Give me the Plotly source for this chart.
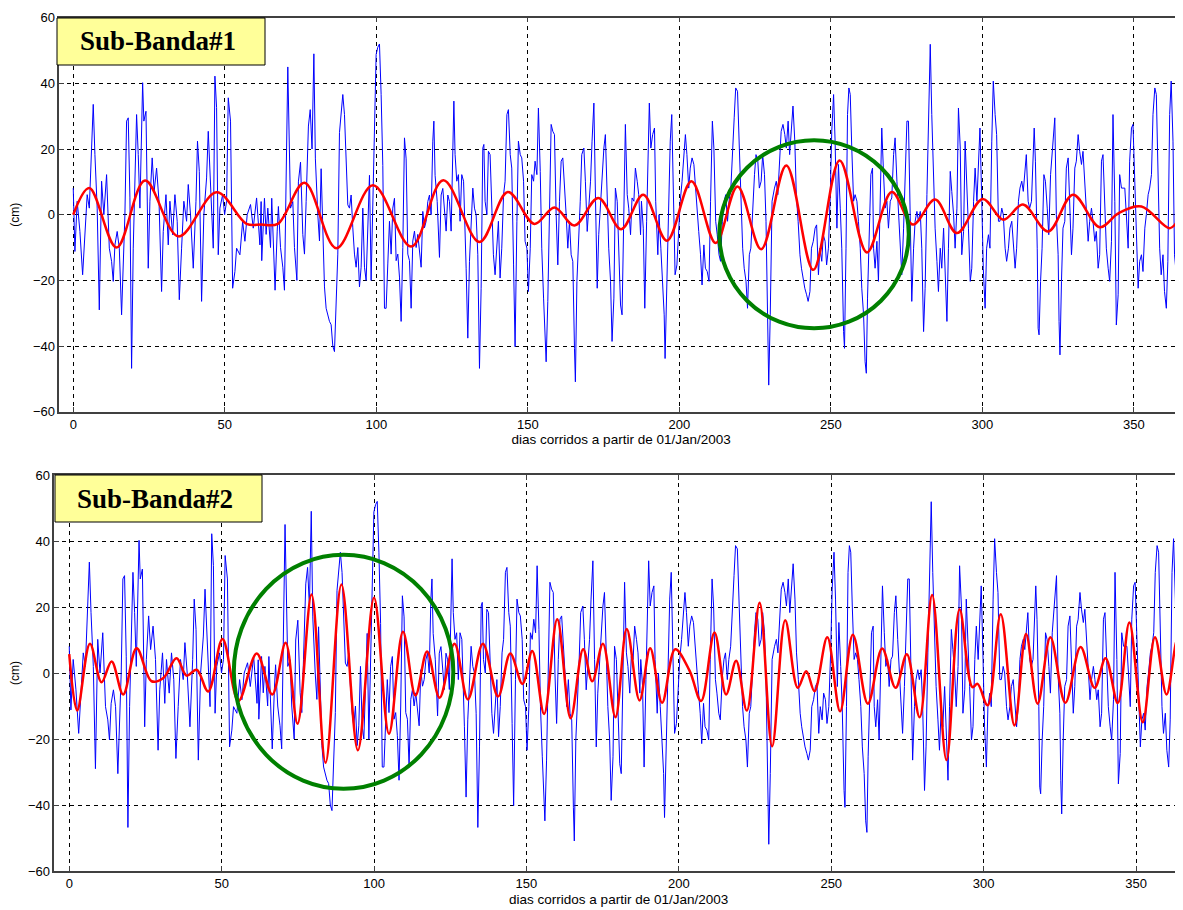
import plotly.graph_objects as go

# ---------------- data ----------------
X_TICKS = [0, 50, 100, 150, 200, 250, 300, 350]
Y_TICKS = [-60, -40, -20, 0, 20, 40, 60]
X_TITLE = "dias corridos a partir de 01/Jan/2003"
Y_TITLE = "(cm)"
PANEL_LABELS = ["Sub-Banda#1", "Sub-Banda#2"]

# sea-level residual (blue), (day, cm) samples at the visible turning points
BLUE_SAMPLES = [
    (0, 8.1), (0.55, -11.2), (1.3, 4.1), (2.2, -5.1), (3.1, -18.3), (3.85, -4.1), (4.6, 6.1), (5.3, 2.0),
    (6.05, 24.4), (6.6, 33.6), (7.15, 18.3), (7.9, 2), (8.6, -29), (9.35, 10.2), (10.1, 0), (11.0, 12.2),
    (11.9, -10.2), (12.65, -14.2), (13.2, -20.3), (13.75, -9.2), (14.5, -5.1), (15.2, -10.2), (15.95, -30.5),
    (16.5, -16.3), (17.05, 0), (17.6, 28.5), (18.15, 29.5), (18.7, 5.1), (19.25, -46.8), (19.8, -10.2),
    (20.9, 30.5), (21.45, 18.3), (22.0, 2), (22.9, 40.2), (23.3, 28.5), (24.0, 31.5), (24.75, -16.3),
    (25.3, 4.1), (26.05, 17.3), (26.7, 7.1), (27.5, 14.2), (28.3, 4.1), (29.15, -23.4), (29.7, -5.1),
    (30.6, 6.1), (31.35, -9.2), (31.9, 4.1), (32.8, -6.1), (33.55, 6.1), (34.3, -2), (35.0, -25.9),
    (35.75, -10.2), (36.5, 4.1), (37.4, -2), (37.95, 9.2), (38.7, 0), (39.6, -16.3), (40.5, 4.1),
    (41.0, 22.4), (41.6, 13.2), (42.35, -26.4), (43.1, 0), (44.0, 11.2), (44.55, 25.4), (45.3, 8.1),
    (46.2, -10.2), (46.75, 42.2), (47.3, 32.6), (47.85, -12.2), (48.4, 2), (49.3, 6.1), (49.95, 0),
    (50.6, 4.1), (51.15, 35.6), (51.9, 28.5), (52.6, -22.4), (53.35, -17.3), (53.9, -10.2), (55.0, -12.2),
    (55.9, -2), (56.65, -8.1), (57.4, 0), (58.5, 3.1), (59.4, -4.1), (60.5, 5.1), (61.6, -9.2),
    (62.0, 4), (62.2, -14), (63.1, 5), (63.65, -6), (64.2, 2), (65.1, -10), (65.5, 5), (66.2, -16),
    (66.6, -23), (67.3, -5), (67.7, 2.5), (68.4, -10), (69.15, -16), (69.7, -23), (70.8, 45), (71.7, 2),
    (72.45, 4), (73.0, -10), (73.8, -20), (74.3, 10), (75.0, 16), (75.75, -6), (76.3, -12), (76.85, 4),
    (77.6, 27), (78.2, 32), (78.8, 20), (79.4, 49), (79.9, 17), (80.7, 0), (81.25, -8), (81.8, 14),
    (82.35, -5), (82.9, -22), (83.45, -28.5), (84.0, -30.5), (84.55, -32.5), (85.1, -33.5), (85.65, -40),
    (86.2, -41.7), (86.75, -28.5), (87.3, -12), (87.85, 25), (88.4, 31.5), (88.95, 36.6), (89.5, 30.5),
    (90.05, 15), (90.6, 3), (91.15, 2), (91.7, 6), (92.25, -4), (92.8, -12), (93.35, -16), (93.9, -10),
    (94.45, -22), (95.0, -16), (95.55, 2), (96.1, -16), (96.65, -20), (97.2, -2), (97.75, 12), (98.3, -20),
    (98.85, 4), (99.4, 33.6), (99.95, 48.8), (100.5, 51), (101.05, 52), (101.6, 36.6), (102.15, 15),
    (102.7, -28.5), (103.25, -28.5), (103.8, -15), (104.35, -2), (104.9, -12), (105.45, 2), (106.0, 5),
    (106.55, -14), (107.1, -12), (107.65, -19), (108.2, -32.5), (108.75, -10), (109.3, 23.4), (109.85, 17),
    (110.4, -12), (110.95, -14), (111.5, -28.5), (112.05, -8), (112.6, -5), (113.15, -10), (113.7, -6),
    (114.25, -12), (114.8, -16), (115.35, 1), (115.9, -4), (116.45, -2), (117.0, 4), (117.55, 6),
    (118.1, 0), (118.65, 22.4), (119.0, 28.5), (119.4, 12), (120.1, 4), (120.85, -13), (121.4, 6),
    (121.95, 8), (122.5, 0), (123.05, -5), (123.6, 6), (124.15, 4), (124.7, -5),
    (125.25, 22.4), (125.6, 34.6), (126.0, 18.3), (126.55, 10.2), (127.1, 12.2), (127.65, -2), (128.2, 12.2),
    (128.8, 10.2), (129.65, -16.3), (130.2, -37.6), (130.75, -14.2), (131.3, -2), (131.85, 8.1), (132.4, 2),
    (132.95, 0), (133.5, -12.2), (134.05, -46.8), (134.6, -22.4), (135.15, 20.3), (135.5, 21.4), (135.9, 4.1),
    (136.5, 0), (137.0, 19.3), (137.55, 18.3), (138.1, 4.1), (138.65, -12.2), (139.2, -18.3), (139.75, -10.2),
    (140.3, -2), (140.85, -19.3), (141.4, -10.2), (142.0, 6.1), (142.5, 10.2), (143.1, 30.5), (143.6, 32.0),
    (144.2, 18.3), (144.7, 14.2), (145.3, -15.3), (145.8, -40.2), (146.4, -2), (146.9, 22.4), (147.5, 18.3),
    (148.0, 17.3), (148.6, 10.2), (149.1, -8.1), (149.7, -10.2), (150.2, -23.4), (150.8, -10.2), (151.3, 12.2),
    (151.9, 10.2), (152.4, 16.3), (153.0, 12.2), (153.5, 32.5), (154.1, 13.2), (154.6, -10.2), (155.2, -25.4),
    (155.7, -40.7), (156.05, -44.8), (156.6, -26.4), (157.15, 4.1), (157.7, 27.5), (158.25, 25.4), (158.8, 24.4),
    (159.35, 0), (159.9, -15.3), (160.45, 4.1), (161.0, 16.3), (161.55, 17.3), (162.1, 10.2), (162.65, 0),
    (163.2, -10.2), (163.75, -2), (164.3, -12.2), (164.85, -14.2), (165.4, -40.7), (165.7, -50.9),
    (166.2, -20.3), (166.7, -10.2), (167.3, 4.1), (167.8, 18.3), (168.5, 20.3), (169.0, 10.2), (169.6, -5.1),
    (170.1, 2), (170.7, 10.2), (171.2, 22.4), (171.8, 34), (172.35, 4.1), (172.9, -22.4), (173.4, -6.1),
    (174.0, 4.1), (174.5, 10.2), (175.1, 20.3), (175.6, 24.4), (176.2, 4.1), (176.7, -10.2), (177.3, -20.3),
    (177.8, -38.6), (178.4, -25.4), (178.9, 8.1), (179.5, 4.1), (180.0, -8.1), (180.6, -27.5), (181.1, -30.5),
    (181.7, 4.1), (182.2, 27.5), (182.8, 6.1), (183.3, 2), (183.9, -6.1), (184.4, 5.1), (185.0, 4.1),
    (185.5, 14.2), (186.1, 10.2), (186.6, 6.1), (187.2, -6.1),
    (187.5, 4.1), (188.1, -4.1), (188.6, -28.5), (189.2, -2), (189.8, 30.5), (190.1, 34), (190.6, 20.3),
    (191.2, 24.4), (191.8, 26.4), (192.2, 4.1), (192.9, -12.2), (193.3, 0), (193.9, -10.2), (194.4, -20.3),
    (195.0, -30.5), (195.3, -43.8), (195.9, -20.3), (196.4, 0), (197.0, 22.4), (197.5, 30.5), (198.1, 8.1),
    (198.6, -18.3), (199.2, -15.3), (199.8, -4.1), (200.3, 4.1), (200.9, 10.2), (201.4, 18.3), (202.0, 24.4),
    (202.5, 18.3), (203.1, 8.1), (203.6, 14.2), (204.2, 17.3), (204.8, 15.3), (205.3, 8.1), (205.9, 2),
    (206.4, -5.1), (207.0, -12.2), (207.5, -21.4), (208.1, -9.2), (208.6, -16.3), (209.2, -17.3),
    (209.8, -20.3), (210.3, 4.1), (210.9, 28.5), (211.4, 20.3), (212.0, -2), (212.5, -6.1), (213.1, -12.2),
    (213.6, -14.2), (214.2, -2), (214.8, 4.1), (215.3, 6.1), (215.9, -2), (216.4, 4.1), (217.0, 8.1),
    (217.5, 20.3), (218.1, 29.5), (218.6, 38.6), (219.2, 37.6), (219.8, 20.3), (220.3, 8.1), (220.9, -10.2),
    (221.4, -16.3), (222.0, -20.3), (222.5, -28.5), (223.1, -12.2), (223.6, -10.2), (224.2, 2), (224.8, 12.2),
    (225.3, 18.3), (225.9, 16.3), (226.4, 8.1), (227.0, 10.2), (227.5, 18.3), (228.1, 12.2), (228.6, -2),
    (229.2, -30.5), (229.5, -51.9), (230.0, -30.5), (230.6, 4.1), (231.4, 8.1), (232.0, 10.2), (232.5, 6.1),
    (233.1, 16.3), (233.6, 25.4), (234.2, 27.5), (234.8, 24.4), (235.3, 20.3), (235.9, 28.5), (236.4, 18.3),
    (237.0, 26.4), (237.5, 33.1), (238.1, 22.4), (238.6, 6.1), (239.2, -2), (239.8, -12.2), (240.3, -16.3),
    (240.9, -20.3), (241.4, -22.4), (242.0, -24.4), (242.5, -26.4), (243.1, -23.4), (243.6, -10.2),
    (244.2, -8.1), (244.8, -4.1), (245.3, -3.1), (245.9, -18.3), (246.4, -10.2), (247.0, -14.2),
    (247.5, -6.1), (248.1, -8.1), (248.6, -15.3), (249.2, -10.2), (249.8, 6.1), (250.3, 25.4),
    (250.9, 36.6), (251.4, 22.4), (252.0, -4.1), (252.5, 15.3), (253.1, 2), (253.6, -10.2), (254.2, -35.6),
    (254.5, -40.7), (255.0, -10.2), (255.5, 30.5), (255.95, 38.6), (256.4, 36.6), (256.9, 20.3), (257.5, 4.1),
    (258.0, 6.1), (258.6, 4.1), (259.1, -2), (259.7, -10.2), (260.2, -22.4), (260.8, -30.5), (261.3, -44.8),
    (261.7, -48.3), (262.1, -25.4), (262.8, -2), (263.2, 12.2), (263.75, 14.2), (264.1, -10.2), (264.6, -16.3),
    (265.2, -8.1), (265.7, -20.3), (266.3, 4.1), (266.8, 26.4), (267.4, 12.2), (267.9, 2), (268.5, 4.1),
    (269.0, -4.1), (269.6, 4.1), (270.1, 5.1), (270.7, 18.3), (271.2, 23.4), (271.8, 10.2), (272.3, 0),
    (272.9, -10.2), (273.4, -18.3), (274.0, -4.1), (274.5, 12.2), (275.1, 28.5), (275.6, 28.5), (276.2, -4.1),
    (276.7, -26.4), (277.3, -10.2), (277.8, -2), (278.4, 1), (278.9, -2), (279.5, 1), (280.0, -10.2),
    (280.6, -35.6), (281.1, -22.4), (281.7, 6.1), (282.2, 30.5), (282.8, 51.9), (283.3, 30.5), (283.9, 10.2),
    (284.4, -4.1), (285.0, -14.2), (285.5, -23.4), (286.1, -10.2), (286.6, -16.3), (287.2, -4.1),
    (287.7, -18.3), (288.3, -32.5), (288.8, -10.2), (289.4, 13.2), (289.9, 7.1), (290.5, 0), (291.0, -10.2),
    (291.6, 2), (292.1, 32.5), (292.7, 20.3), (293.2, -12.2), (293.8, -5.1), (294.3, 22.4), (294.9, 4.1),
    (295.4, -4.1), (296.0, -20.3), (296.5, -16.3), (297.1, 4.1), (297.6, 14.2), (298.2, 4.1), (298.7, 14.2),
    (299.2, 26.4), (299.8, 4.1), (300.3, -16.3), (300.9, -28.5), (301.4, -10.2), (302.0, -6.1),
    (302.5, -10.2), (303.1, 22.4), (303.6, 40.7), (304.2, 30.5), (304.7, 24.4), (305.3, -2), (305.8, -2),
    (306.4, 2), (306.9, 0), (307.5, -10.2), (308.0, -14.2), (308.6, -10.2), (309.1, -4.1), (309.7, -2),
    (310.2, -8.1), (310.8, -16.3), (311.3, -10.2), (311.9, 4.1), (312.4, 8.1), (313.0, 10.2), (313.5, 7.1),
    (314.0, 12.2), (314.5, 18.3), (315.1, 4.1), (315.6, 2), (316.2, 4.1), (316.7, 20.3), (317.1, 26.4),
    (317.5, 16.3), (318.1, -10.2), (318.4, -34.6), (318.7, -36.6), (319.2, -20.3), (319.7, -10.2),
    (320.3, 12.2), (320.8, 10.2), (321.4, 2), (321.9, -6.1), (322.5, 12.2), (323.0, 18.3), (323.6, 26.4),
    (323.9, 29.5), (324.4, 0), (325.0, -12.2), (325.3, -32.5), (325.6, -42.7), (326.1, -20.3), (326.6, -4.1),
    (327.2, -2), (327.7, 14.2), (328.3, 17.3), (328.8, 4.1), (329.4, -12.2), (329.9, -4.1), (330.5, 14.2),
    (331.0, 16.3), (331.6, 24.4), (332.1, 19.3), (332.7, 15.3), (333.2, 19.3), (333.8, 10.2), (334.3, 0),
    (334.9, -8.1), (335.4, -2), (336.0, 2), (336.5, -2), (337.1, -8.1), (337.6, -5.1), (338.2, -16.3),
    (338.7, -12.2), (339.3, 16.3), (339.8, 18.3), (340.4, 4.1), (340.9, -10.2), (341.5, -16.3),
    (342.0, -20.3), (342.6, -8.1), (343.1, 30.5), (343.7, 4.1), (344.2, -33.6), (344.8, -24.4),
    (345.3, 12.2), (345.9, 8.1), (346.4, 8.1), (347.0, 8.1), (347.5, 0), (348.1, -10.2), (348.6, 16.3),
    (349.2, 26.4), (349.7, 27.5), (350.3, 10.2), (350.8, -10.2), (351.4, -22.4), (351.9, -14.2),
    (352.5, -12.2), (353.0, -17.3), (353.6, -4.1), (354.1, 0), (354.7, 6.1), (355.2, 8.1), (355.8, 12.2),
    (356.3, 30.5), (356.9, 38.6), (357.4, 36.6), (357.9, 16.3), (358.5, -10.2), (359.0, -18.3),
    (359.6, -12.2), (360.1, -23.4), (360.7, -28.5), (361.2, -14.2), (361.8, 30.5), (362.3, 40.7),
    (362.9, 22.4), (363.4, -12.2), (364.0, -18.3), (364.5, 16.3),
]

# band-filtered component, sub-band 1 (red, top)
RED1_DAY = [0, 5.3, 14.3, 23.7, 34.7, 47.3, 57.2, 62, 67.5, 76.3, 86.8, 98.9, 111.5, 122.1, 134.05,
            143.4, 152.2, 158.8, 165.4, 173.3, 180.8, 188.1, 195.9, 204, 212, 219.2, 227, 235.3, 244.2,
            252.9, 261.9, 270.1, 277.1, 284.4, 291.6, 300.1, 306.9, 313.4, 321.7, 329.9, 338.7, 345,
            352.5, 361.8, 364.8]
RED1_CM = [0, 8.1, -10, 10.4, -6.6, 6.8, -2.8, -3, -2.8, 9.7, -10.2, 9, -9.7, 10.5, -8.3,
           6.9, -2.8, 2.2, -3.3, 5.1, -4.4, 6.1, -7.9, 10.2, -8.6, 8.6, -10.5, 15, -16.8,
           16.5, -11.5, 6.9, -3, 4.6, -5.6, 4.8, -1.5, 3.1, -5.1, 6.1, -3.8, 0.5,
           2.5, -4.1, -1.2]

# band-filtered component, sub-band 2 (red, bottom)
RED2_DAY = [0, 2.6, 6.8, 10.6, 13.9, 17.7, 22.1, 27.0, 30.9, 35.2, 38.5, 41.8, 45.6, 50.3, 55.5,
            61.5, 66.6, 71.0, 74.9, 79.5, 84.1, 89.3, 94.7, 100.0, 104.9, 109.5, 113.6, 117.4, 121.5,
            126.4, 130.8, 135.7, 140.7, 144.7, 148.7, 151.9, 155.8, 160.1, 164.5, 168.6, 171.6, 175.1,
            179.2, 182.9, 187.1, 190.6, 194.5, 198.8, 203.5, 207.3, 211.7, 215.5, 218.8, 222.3, 226.5,
            230.6, 234.9, 239.0, 241.8, 244.5, 248.7, 252.9, 257.1, 262.0, 266.7, 271.1, 274.8, 279.0,
            283.1, 287.8, 292.1, 296.3, 298.0, 301.3, 305.6, 310.1, 313.9, 317.7, 321.9, 326.8, 331.8,
            336.4, 340.0, 344.0, 347.8, 352.2, 356.2, 360.0, 363.6, 365.0]
RED2_CM = [5.7, -11.4, 8.9, -2.8, 3.5, -6.5, 7.5, -2.5, -1.5, 4.5, -0.8, 1.0, -5.6, 10.3, -8.5,
           5.9, -6.5, 9.2, -15.4, 23.8, -27.2, 26.8, -23.4, 22.8, -18.4, 12.5, -6.8, 6.5, -7.5,
           8.9, -8.0, 8.9, -7.1, 5.9, -3.3, 6.7, -12.4, 16.3, -13.7, 7.2, -2.5, 8.9,
           -13.4, 13.3, -8.3, 7.5, -9.0, 7.2, 0.7, -8.5, 12.3, -6.5, 3.7, -11.4, 21.3,
           -22.2, 16.0, -4.5, 0.5, -5.5, 10.8, -11.6, 11.6, -9.3, 7.4, -4.5, 5.7, -13.4,
           23.6, -26.4, 19.3, -4.3, -3.3, -9.8, 17.8, -15.9, 11.8, -9.3, 10.8, -9.0, 7.9,
           -4.5, 4.5, -9.1, 15.3, -14.9, 10.8, -6.5, 10.3, 7.2]

# highlighted events (data coordinates: day range, cm range)
CIRCLE_TOP = (213.2, 275.7, -34.6, 22.7)
CIRCLE_BOT = (54.0, 126.0, -35.1, 35.8)

BLUE_DAY = [p[0] for p in BLUE_SAMPLES]
BLUE_CM = [p[1] for p in BLUE_SAMPLES]

# ---------------- figure ----------------
# the page body adds an 8 px margin, so the figure is laid out in window pixels minus 8
OFF = 8
W, H = 1183 - OFF, 910 - OFF
SANS = "Liberation Sans, Arial, sans-serif"
SERIF = "Liberation Serif, Times New Roman, serif"


def px(x):
    return (x - OFF) / W


def py(y):
    return 1 - (y - OFF) / H


fig = go.Figure()
for xa, ya in (("x", "y"), ("x2", "y2")):
    fig.add_trace(go.Scatter(x=BLUE_DAY, y=BLUE_CM, mode="lines", xaxis=xa, yaxis=ya,
                             line=dict(color="#0000ff", width=1), showlegend=False, hoverinfo="skip"))
fig.add_trace(go.Scatter(x=RED1_DAY, y=RED1_CM, mode="lines", xaxis="x", yaxis="y",
                         line=dict(color="#ff0000", width=2.5, shape="spline", smoothing=1.0),
                         showlegend=False, hoverinfo="skip"))
fig.add_trace(go.Scatter(x=RED2_DAY, y=RED2_CM, mode="lines", xaxis="x2", yaxis="y2",
                         line=dict(color="#ff0000", width=2.5, shape="spline", smoothing=1.0),
                         showlegend=False, hoverinfo="skip"))

common = dict(showgrid=True, gridcolor="black", griddash="4px,4px", gridwidth=1, zeroline=False,
              showline=True, linecolor="#404040", linewidth=1.5, ticks="inside", ticklen=5,
              tickcolor="#404040", tickfont=dict(family=SANS, size=13, color="black"),
              automargin=False, fixedrange=True)

xtitle = dict(text=X_TITLE, font=dict(family=SANS, size=13.5, color="black"), standoff=4)
ytitle = dict(text=Y_TITLE, font=dict(family=SANS, size=12, color="black"), standoff=14)

fig.update_layout(
    width=W, height=H, template="none",
    margin=dict(l=0, r=0, t=0, b=0),
    paper_bgcolor="white", plot_bgcolor="white",
    showlegend=False,
    xaxis=dict(common, domain=[px(59.3), 1.0], range=[-4.6, 366.2], tickvals=X_TICKS,
               mirror="ticks", anchor="y", title=xtitle),
    yaxis=dict(common, domain=[py(411.7), py(17.7)], range=[-60, 60], tickvals=Y_TICKS,
               mirror=False, anchor="x", title=ytitle),
    xaxis2=dict(common, domain=[px(54.3), 1.0], range=[-4.9, 365.4], tickvals=X_TICKS,
                mirror="ticks", anchor="y2", title=xtitle),
    yaxis2=dict(common, domain=[py(871), py(475)], range=[-60, 60], tickvals=Y_TICKS,
                mirror=False, anchor="x2", title=ytitle),
)

# green circles marking the events
for (x0, x1, y0, y1), xr, yr in ((CIRCLE_TOP, "x", "y"), (CIRCLE_BOT, "x2", "y2")):
    fig.add_shape(type="circle", xref=xr, yref=yr, x0=x0, x1=x1, y0=y0, y1=y1,
                  line=dict(color="#008000", width=4), layer="above")

# yellow panel labels
boxes = [(57, 265, 18, 65, 78), (55, 262, 475, 522, 75)]
for label, (bx0, bx1, by0, by1, tx) in zip(PANEL_LABELS, boxes):
    fig.add_shape(type="rect", xref="paper", yref="paper",
                  x0=px(bx0), x1=px(bx1), y0=py(by1), y1=py(by0),
                  fillcolor="#ffff99", line=dict(color="black", width=1), layer="above")
    fig.add_annotation(xref="paper", yref="paper", x=px(tx), y=py((by0 + by1) / 2),
                       xanchor="left", yanchor="middle", showarrow=False,
                       text="<b>%s</b>" % label, font=dict(family=SERIF, size=27, color="black"))

fig.write_html("out.html")
